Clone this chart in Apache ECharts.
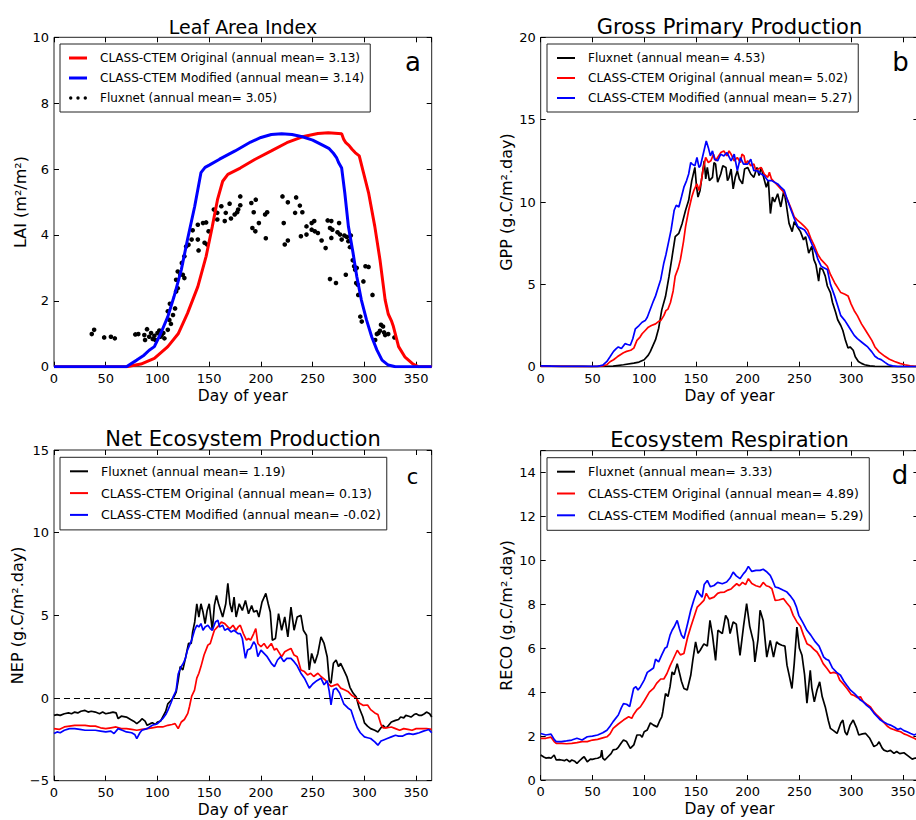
<!DOCTYPE html>
<html><head><meta charset="utf-8">
<script src="https://cdn.jsdelivr.net/npm/echarts@6/dist/echarts.min.js"></script>
<style>html,body{margin:0;padding:0;background:#fff}#c{width:916px;height:820px}</style>
</head><body><div id="c"></div><script>
// ---------------- DATA ----------------
const panelTitles = ['Leaf Area Index', 'Gross Primary Production', 'Net Ecosystem Production', 'Ecosystem Respiration'];
const panelLetters = ['a', 'b', 'c', 'd'];
const yNames = ['LAI (m\u00B2/m\u00B2)', 'GPP (g.C/m\u00B2.day)', 'NEP (g.C/m\u00B2.day)', 'RECO (g.C/m\u00B2.day)'];
const xName = 'Day of year';
const xTicks = [0, 50, 100, 150, 200, 250, 300, 350];
const yRanges = [[0, 10, 2], [0, 20, 5], [-5, 15, 5], [0, 15, 2]];

const laiNames = ['CLASS-CTEM Original (annual mean= 3.13)', 'CLASS-CTEM Modified (annual mean= 3.14)', 'Fluxnet (annual mean= 3.05)'];
const gppNames = ['Fluxnet (annual mean= 4.53)', 'CLASS-CTEM Original (annual mean= 5.02)', 'CLASS-CTEM Modified (annual mean= 5.27)'];
const nepNames = ['Fluxnet (annual mean= 1.19)', 'CLASS-CTEM Original (annual mean= 0.13)', 'CLASS-CTEM Modified (annual mean= -0.02)'];
const recoNames = ['Fluxnet (annual mean= 3.33)', 'CLASS-CTEM Original (annual mean= 4.89)', 'CLASS-CTEM Modified (annual mean= 5.29)'];

const laiOriginal = [[0,0],[60,0],[70,0],[84,0.08],[97,0.25],[110,0.61],[120,1.0],[129,1.62],[139,2.43],[147,3.35],[153,4.26],[158,5.07],[163,5.63],[168,5.84],[180,6.03],[194,6.29],[210,6.55],[225,6.8],[240,6.98],[255,7.08],[265,7.1],[278,7.07],[280,6.9],[282,6.8],[285,6.72],[288,6.6],[291,6.5],[295,6.4],[299,5.9],[304,5.28],[310,4.26],[315,3.25],[320,2.03],[323,1.6],[326,1.4],[328,1.22],[333,0.61],[339,0.3],[347,0.08],[352,0],[365,0]];
const laiModified = [[0,0],[60,0],[70,0],[74,0.08],[80,0.2],[87,0.35],[92,0.5],[97,0.61],[103,1.0],[110,1.52],[116,2.13],[123,2.94],[129,3.86],[136,4.87],[142,5.89],[146,6.05],[150,6.12],[160,6.3],[175,6.55],[190,6.82],[200,6.96],[210,7.05],[220,7.07],[230,7.05],[240,6.98],[250,6.88],[260,6.72],[266,6.62],[270,6.48],[273,6.35],[275,6.2],[278,6.03],[281,5.28],[284.5,4.26],[289,3.45],[292.6,2.74],[297,2.03],[302,1.42],[307,0.91],[312,0.51],[317,0.2],[323,0.05],[330,0],[365,0]];
const laiFluxnet = [[36.5,0.99],[38.8,1.12],[48.5,0.89],[55,0.91],[58.8,0.86],[78.6,0.98],[81.5,0.99],[87.3,0.96],[89.9,1.14],[88,0.81],[92,0.91],[93.8,1.02],[95.4,0.84],[97,0.94],[98,0.81],[100,1.02],[101.8,1.1],[102.8,0.91],[104,0.96],[105.7,1.02],[106.7,0.86],[110,1.12],[111.5,1.42],[113,1.3],[115,1.57],[110,1.68],[112,1.91],[117,1.77],[118,2.28],[119.6,2.38],[118,2.64],[119.6,2.89],[122,2.79],[124.5,2.79],[126,2.69],[123.5,3.15],[126,3.35],[127.7,3.65],[130,3.7],[133,3.86],[134,4.14],[139,3.86],[139.7,3.53],[139,4.31],[144,4.36],[147,4.38],[149.4,4.11],[145.5,3.76],[148,3.71],[154.5,4.77],[157.8,4.67],[157.8,4.47],[161.7,4.87],[165,4.42],[166,4.67],[169.7,4.95],[171,4.5],[174.6,4.62],[177,4.69],[178,4.77],[180,5.17],[180,4.9],[190.7,4.97],[193,4.69],[195,5.07],[191.7,4.21],[194.6,4.11],[198,4.36],[204.7,3.9],[204,4.62],[206,4.69],[220.8,5.17],[222,4.36],[223,3.71],[226,4.99],[226,3.83],[234,5.14],[233,4.67],[237.6,4.89],[240,4.69],[238.6,3.96],[244,4.26],[244,4.01],[249,4.36],[251.5,4.42],[249,4.16],[252,4.11],[255,4.06],[258.6,3.83],[262.5,3.6],[264.5,4.44],[268,4.42],[266.7,4.21],[269,4.16],[268,3.91],[266.7,2.66],[272.5,2.54],[275.5,4.36],[274,4.08],[276.4,4.01],[278,3.86],[280.6,3.98],[283,3.94],[284.5,3.81],[286.8,3.98],[286,3.63],[282,2.79],[288.7,3.23],[290,3.05],[291,2.94],[292.6,3.0],[292,2.54],[293.6,2.49],[294,2.18],[296,1.52],[297.4,1.37],[299,2.59],[301,3.05],[304,3.03],[307.8,2.18],[310.4,0.81],[312,0.99],[313.6,1.02],[316,1.27],[318,1.22],[319,1.04],[315,1.09],[320,0.96],[323,0.99],[329,0.89]];

const gppFluxnet = [[0,0.05],[10,0.03],[20,0.02],[30,0.02],[40,0.02],[50,0.01],[60,0.02],[70,0.03],[80,0.12],[90,0.22],[95,0.28],[100,0.42],[104,0.7],[106,0.93],[111,1.64],[114,2.34],[117,3.45],[120.6,4.26],[124,5.48],[127,6.69],[130,7.9],[133.5,8.1],[136.7,8.7],[140,9.5],[143,10.1],[146,11.3],[149,12.1],[150.5,11.0],[152,10.3],[154,10.7],[156,11.6],[158,12.5],[159.5,11.4],[161,12.1],[163,11.3],[166,11.5],[167.5,12.4],[169,12.3],[171,11.2],[174,11.7],[176,12.2],[179,12.1],[180.5,11.3],[182,11.5],[184,12.0],[186,10.8],[188,11.5],[190,11.9],[192,11.4],[195,11.1],[197,12.0],[200,12.1],[203,11.7],[206,11.5],[209,12.1],[211,11.6],[213,12.1],[215,11.6],[218,10.9],[220,11.3],[222,9.3],[224,10.3],[226,10.0],[229,10.5],[232,9.7],[235,10.7],[237,10.0],[240,8.7],[243,8.2],[245,8.8],[248,8.5],[251,8.2],[254,7.7],[256,7.9],[259,6.9],[262,7.3],[264,6.5],[266,6.2],[268.6,5.2],[270,6.0],[272.5,5.9],[275,5.5],[277,4.9],[280,4.5],[282,3.9],[285,3.3],[287,2.85],[290,2.5],[292,2.2],[294.5,1.6],[297,1.13],[299,1.2],[302,1.0],[304,0.6],[307,0.32],[310,0.2],[313,0.12],[318,0.05],[323,0.02],[340,0],[365,0]];
const gppOriginal = [[0,0.02],[20,0.02],[40,0.01],[55,0.02],[60,0.05],[64,0.12],[67,0.3],[70.4,0.42],[74,0.6],[77,0.73],[80,0.85],[83,0.93],[87,1.0],[90,1.13],[93,1.6],[96,1.8],[98,2.0],[101,2.2],[104,2.4],[107,2.5],[111,2.6],[114,2.75],[116,2.8],[119,3.1],[121,3.4],[123,3.5],[125.4,3.9],[128,4.6],[130,5.5],[133,6.0],[135,6.5],[138,7.6],[140,8.5],[143,9.5],[146,10.3],[148,10.7],[151,11.1],[153,10.7],[155,11.2],[157,12.0],[159.4,12.7],[162,12.4],[164.4,12.5],[167,12.9],[169,12.5],[171,12.7],[174,13.0],[177,13.1],[180,12.8],[182,13.1],[184,12.9],[187,12.5],[190,12.7],[193,12.4],[194.5,12.9],[196.5,12.8],[198,12.3],[200,12.5],[203,12.2],[206,12.3],[208,11.9],[210,12.0],[213,12.1],[216,11.7],[219.4,11.5],[221,11.8],[223,11.4],[226,11.2],[229,11.0],[232,10.8],[235,10.6],[238.7,10.1],[242,9.6],[245,9.1],[248,8.9],[251.7,8.7],[255,8.5],[258,8.3],[261,7.8],[264.7,7.3],[268,6.8],[271,6.5],[274,6.3],[277,6.1],[280,5.6],[284,5.1],[287,4.8],[290,4.5],[294,4.4],[297,4.3],[300,3.8],[303,3.4],[306,3.1],[310,2.6],[313,2.3],[316,2.0],[320,1.6],[323,1.2],[327,0.9],[332.6,0.63],[337,0.45],[342,0.32],[347,0.2],[352,0.12],[357,0.05],[361,0.02],[365,0.01]];
const gppModified = [[0,0.05],[20,0.02],[40,0.02],[55,0.02],[60,0.1],[64,0.32],[67,0.6],[70.4,0.93],[73,1.1],[75,1.2],[78,1.1],[81.5,1.4],[84,1.35],[86.6,1.3],[89,1.7],[91.5,2.3],[95,2.5],[98,2.7],[101,2.8],[103,3.0],[106,3.5],[109,4.0],[111,4.3],[114,4.9],[116,5.3],[119,6.3],[121,6.8],[124,7.7],[126,8.3],[129,9.5],[131,9.8],[133.5,9.7],[136,10.3],[138.4,10.9],[141,11.3],[143,11.7],[145,12.4],[146.4,12.3],[149,12.2],[151,12.7],[153,12.1],[154.4,12.2],[157,12.9],[160,13.7],[162,13.3],[164,12.8],[166,13.1],[168,12.6],[171,12.5],[174,12.9],[177,12.8],[180,13.0],[184,12.5],[187,12.9],[190,11.9],[193,12.7],[196,12.3],[200,12.3],[203,12.6],[206,11.9],[209,11.9],[213,11.7],[216,11.6],[219.4,11.3],[223,11.3],[226,11.2],[229,11.1],[232,10.9],[235.4,10.7],[238,10.2],[242,9.5],[245,9.0],[248.5,8.5],[252,8.4],[255,8.3],[259,7.9],[263,7.3],[266,6.9],[268,6.5],[271,6.1],[274,6.0],[277,5.9],[280,5.0],[284,4.3],[287,3.7],[290,3.1],[294,2.8],[297,2.5],[300,2.2],[303,1.9],[306,1.7],[310,1.5],[313,1.35],[316,1.2],[320,0.9],[323,0.63],[326,0.5],[329,0.43],[333,0.25],[336,0.12],[340,0.05],[345,0],[365,0]];

const nepFluxnet = [[0,-1.05],[3,-1.0],[6,-1.05],[10,-0.95],[14,-0.9],[17,-0.95],[20,-0.85],[23,-0.9],[26,-0.8],[30,-0.75],[33,-0.85],[36,-0.8],[40,-0.85],[44,-0.95],[47,-0.85],[50,-0.95],[54,-0.9],[57,-0.85],[60,-0.9],[62,-1.25],[65,-1.1],[70,-1.15],[74,-1.3],[77,-1.4],[80,-1.55],[83,-1.4],[85,-1.25],[88,-1.4],[90,-1.65],[93,-1.55],[95,-1.5],[98,-1.6],[100,-1.45],[103,-1.4],[105,-1.15],[108,-0.8],[110,-0.35],[113,-0.15],[116,0.08],[118,0.35],[120,1.05],[122,1.9],[124.5,1.7],[127,2.4],[128,2.7],[130,3.3],[132.6,3.3],[134,4.0],[136,4.6],[138,5.7],[140,4.9],[142,5.7],[144,5.2],[146,4.5],[148,5.3],[150,5.7],[153,4.1],[155,5.6],[157,6.2],[159,5.7],[160,5.5],[163,4.9],[166,5.7],[168,6.94],[170,5.7],[172,5.2],[174,6.1],[176,4.9],[179,5.7],[182,5.3],[185,5.9],[188,5.1],[191,5.6],[193,5.2],[196,5.3],[198,4.9],[201,5.8],[204.7,6.33],[207,5.7],[209,5.2],[211,3.5],[214,3.6],[217,5.1],[220,4.1],[223,4.9],[226,3.7],[229,5.5],[232,4.1],[235,4.9],[238.6,5.0],[241,4.1],[244,3.8],[246.7,1.7],[249,2.7],[252,2.1],[255,2.7],[258,3.7],[261,3.3],[264,2.5],[266,1.05],[267.7,0.9],[270,2.1],[272.6,2.3],[275,1.9],[277,2.1],[280,1.7],[283,1.3],[286,0.65],[289,0.3],[292,0.08],[295,-0.6],[298.4,-1.13],[300,-1.5],[303,-1.7],[306,-1.85],[310,-1.95],[313,-2.05],[316,-1.8],[318,-1.65],[320,-1.8],[322,-1.75],[326,-1.45],[330,-1.35],[333,-1.3],[335,-1.15],[338,-1.2],[340,-1.05],[343,-1.1],[345,-1.15],[348,-1.0],[350,-0.95],[353,-1.05],[355,-1.05],[358,-0.95],[360,-0.85],[363,-0.95],[365,-1.15]];
const nepOriginal = [[0,-1.85],[5,-1.9],[10,-1.75],[15,-1.7],[20,-1.65],[25,-1.65],[30,-1.65],[35,-1.7],[40,-1.7],[45,-1.8],[50,-1.85],[55,-1.8],[60,-1.75],[65,-1.85],[70,-1.85],[75,-1.9],[80,-1.95],[85,-1.9],[90,-1.85],[95,-1.8],[100,-1.75],[105,-1.75],[110,-1.65],[114,-1.6],[117,-1.55],[120,-1.85],[123,-1.45],[126,-1.3],[129.3,-0.93],[131,-0.5],[133,0.1],[135.8,0.48],[138,1.2],[140,1.5],[142,1.9],[145,2.6],[148.7,3.2],[151,3.3],[153,3.7],[155,4.1],[158,4.3],[161.7,4.6],[165,4.5],[168,4.3],[170,4.2],[173,4.4],[176,4.1],[178,4.3],[180,4.4],[183,3.9],[186,3.5],[188,3.6],[190,3.5],[193,3.9],[195,4.2],[197,3.3],[200,3.1],[203,3.3],[206,3.0],[210,3.3],[213,2.9],[215,3.0],[218,2.7],[220,2.5],[223,2.8],[226,2.9],[229,3.0],[232,2.6],[235,2.5],[238.6,1.7],[242,1.6],[245,1.4],[248,1.5],[251,1.3],[255,1.5],[258,1.3],[262,1.1],[265,0.85],[267.7,0.7],[270,0.75],[274,0.85],[277,0.6],[280.6,0.5],[284,0.4],[288,0.15],[292,0],[295,-0.3],[299,-0.45],[303,-0.42],[306,-0.7],[310,-0.9],[313,-1.0],[316,-1.6],[318,-1.8],[322,-1.8],[326,-1.75],[330,-1.85],[334,-1.95],[338,-1.85],[342,-1.9],[346,-1.95],[350,-1.85],[355,-1.85],[360,-1.85],[365,-1.9]];
const nepModified = [[0,-2.15],[3,-2.05],[6,-2.1],[10,-1.95],[15,-1.85],[20,-1.85],[25,-1.9],[30,-1.95],[35,-1.95],[40,-1.95],[45,-2.0],[50,-2.05],[55,-2.0],[58,-2.15],[62,-1.85],[66,-1.95],[70,-2.05],[75,-2.1],[78,-2.2],[80,-2.45],[83,-2.1],[85,-1.95],[90,-1.85],[95,-1.65],[100,-1.55],[105,-1.25],[108,-1.0],[110,-0.75],[113,-0.3],[115,0.05],[118,0.45],[120,1.45],[122.9,1.9],[125,2.1],[127,2.4],[129,2.9],[131,3.2],[133,3.5],[135.8,4.1],[138,4.4],[140,4.3],[142,4.5],[144,4.1],[146,4.3],[148.7,4.4],[151,4.2],[153,4.1],[156,4.6],[158.4,4.7],[160,4.3],[163,4.4],[165,4.1],[168,4.2],[171,4.0],[174,4.1],[177.8,3.9],[180,3.9],[182,3.6],[185,2.4],[187,2.9],[190,3.0],[193,3.4],[195,3.2],[197,2.5],[200,2.9],[203,2.7],[206,2.5],[210,2.1],[213,1.9],[216,2.3],[219,2.5],[222,2.2],[225,2.4],[229,2.4],[232,2.2],[235,1.95],[238.6,1.5],[242,1.2],[246.7,0.6],[250,0.85],[254,1.05],[258,1.2],[261,0.8],[264,1.05],[266,0.4],[267.7,-0.42],[270,0.5],[272.6,0.6],[276,0.3],[280,-0.35],[284,-0.6],[287,-0.73],[290,-1.3],[293,-1.8],[296,-2.1],[300,-2.35],[303,-2.4],[306,-2.45],[310,-2.65],[313,-2.85],[316,-2.6],[318,-2.55],[322,-2.45],[326,-2.35],[330,-2.25],[333,-2.3],[337,-2.3],[340,-2.2],[343,-2.15],[347,-2.2],[350,-2.15],[353,-2.1],[357,-2.0],[360,-1.95],[362,-1.9],[365,-2.1]];
const nepZeroLine = 0;

const recoFluxnet = [[0,1.14],[3,1.05],[5,1.0],[8,1.02],[10,0.99],[13,1.14],[15,0.91],[18,0.93],[20,0.91],[23,0.88],[25,0.94],[28,0.83],[30,0.91],[33,0.85],[35,0.76],[38,0.9],[40,0.99],[42,1.06],[45,0.83],[48,0.95],[50,0.94],[53,0.98],[55,0.99],[58,1.06],[59,1.36],[60,1.0],[62,0.91],[65,1.06],[68,1.2],[70,1.37],[73,1.4],[75,1.49],[78,1.7],[80,1.82],[83,1.75],[86.6,1.44],[90,1.6],[93,2.05],[96.3,2.05],[98,1.95],[100,2.2],[103,2.28],[106,2.6],[109,2.5],[112.5,2.42],[115,2.7],[117,2.88],[118,3.11],[120.6,3.94],[123,3.8],[125,4.25],[127,4.92],[129,4.8],[131.9,5.3],[134,4.9],[136,4.5],[138.4,4.17],[141.6,4.1],[145,4.77],[147,5.46],[149.7,6.29],[152,5.77],[154,5.9],[157.7,6.2],[161,6.1],[163.6,7.27],[166,6.6],[169,5.45],[171.3,6.82],[175.5,6.67],[178.7,7.5],[181,7.3],[183,6.67],[186,7.2],[189,7.1],[192.6,5.68],[196,7.0],[199,8.03],[202,7.0],[205.6,6.29],[207,5.38],[210,6.4],[212,7.73],[215,7.27],[218.5,5.6],[221.8,6.36],[225,5.6],[228,6.29],[230,6.2],[233,6.14],[236,6.1],[238,5.23],[240,4.8],[242.8,4.17],[245,5.3],[247.6,6.97],[250,6.0],[252.5,5.68],[255,4.8],[257.3,3.5],[260.5,5.0],[262,4.2],[264.4,3.56],[267,4.1],[269.6,4.47],[272,3.8],[275,3.33],[278,2.7],[280,2.35],[283,2.25],[286.4,2.12],[290,2.6],[292,2.73],[294,2.2],[296,2.05],[299,2.5],[302,2.73],[305,2.4],[307.4,2.05],[311,2.1],[314,2.12],[318,1.9],[322,1.52],[325,1.6],[327,1.74],[330,1.45],[331.7,1.36],[335,1.3],[338,1.35],[341.4,1.21],[344,1.3],[347,1.2],[351,1.24],[355,1.1],[359,0.95],[362,1.0],[365,0.98]];
const recoOriginal = [[0,1.9],[5,1.9],[10,1.95],[13,1.75],[15,1.67],[20,1.67],[25,1.65],[30,1.67],[35,1.7],[40,1.75],[45,1.75],[50,1.82],[55,1.85],[60,1.92],[64,1.97],[67,2.1],[70,2.35],[75,2.55],[80,2.73],[85,2.88],[88,2.81],[90,3.0],[93,3.2],[96.3,3.33],[100,3.6],[105,4.0],[109,4.17],[112,4.4],[116,4.6],[119,4.6],[122,4.85],[125,5.2],[128,5.5],[132,5.91],[135,5.7],[138.4,5.76],[142,6.5],[145,6.97],[148,7.4],[151.3,7.88],[154,8.0],[157.7,8.18],[160,8.5],[163,8.25],[167.5,8.33],[171,8.5],[174,8.55],[177.6,8.56],[181,8.65],[184,8.7],[186,8.8],[189.4,8.94],[192,8.85],[195,9.0],[198,8.9],[200.7,9.17],[204,8.95],[208,8.85],[212,8.79],[215,9.0],[218,8.85],[221,8.8],[223.4,8.71],[226.6,8.18],[230,8.2],[234.7,8.26],[238,8.05],[241,7.88],[244,7.5],[247.6,7.2],[251,7.0],[254,6.6],[257.3,6.21],[261,6.1],[264,5.95],[267,5.83],[270,5.6],[273,5.3],[276.7,5.08],[280,4.86],[283,4.9],[286.4,4.85],[289,4.55],[292,4.4],[296,4.17],[300,3.9],[303,3.85],[306,3.75],[309,3.79],[312,3.55],[315,3.45],[318.7,3.33],[322,3.1],[325,2.95],[328.4,2.8],[332,2.6],[335,2.45],[338,2.35],[341,2.3],[344,2.25],[347.8,2.2],[351,2.1],[354,2.05],[357.5,1.97],[361,1.9],[364,1.82],[365,1.85]];
const recoModified = [[0,2.12],[5,2.05],[10,2.09],[13,1.85],[15,1.75],[20,1.75],[25,1.78],[30,1.82],[35,1.9],[40,1.82],[45,1.97],[50,2.0],[55,2.05],[60,2.15],[64,2.27],[67,2.45],[70,2.66],[75,2.96],[78,3.3],[80,3.48],[83,3.45],[86,3.35],[89.8,4.17],[92,4.25],[94,4.1],[96.3,4.24],[100,4.55],[103,4.9],[106,5.0],[109,5.1],[111,5.5],[114,5.38],[117,5.7],[120,6.0],[122,6.06],[125,6.6],[127,6.82],[129,6.98],[131.9,7.27],[134,6.9],[136,6.6],[138.4,6.44],[142,7.13],[145,7.73],[148,8.2],[151.3,8.64],[153,8.5],[156,8.33],[158,8.9],[161,9.09],[164,8.8],[167.5,8.86],[171,9.0],[175.5,8.94],[179.7,9.02],[183,9.2],[186,9.47],[189,9.3],[192.6,9.17],[196,9.4],[198,9.5],[200.7,9.73],[204,9.5],[208,9.55],[212,9.55],[215,9.6],[218,9.5],[221.8,9.32],[224,9.1],[226.6,8.79],[230,8.75],[234,8.65],[238,8.56],[241,8.4],[244.5,8.18],[247,7.9],[249.4,7.5],[253,7.2],[257.3,6.82],[261,6.6],[265.4,6.29],[269,6.1],[273.5,5.6],[276,5.5],[278.4,5.45],[282,5.1],[286,4.9],[289.7,4.77],[293,4.5],[296,4.3],[299.4,4.09],[303,3.95],[306,3.8],[309,3.64],[312,3.55],[315,3.4],[318.7,3.26],[322,3.05],[325,2.9],[328.4,2.73],[331,2.65],[335,2.55],[338,2.5],[342,2.4],[345,2.3],[347.8,2.35],[351,2.25],[354,2.2],[357.5,2.12],[361,2.05],[364,2.12],[365,2.15]];

// ---------------- LAYOUT ----------------
const FONT = 'DejaVu Sans';
const RED = '#ff0000', BLUE = '#0000ff', BLACK = '#000000';
const grids = [
  {left: 54, top: 37.3, width: 377.7, height: 329.4},
  {left: 540.7, top: 37.3, width: 377.7, height: 329.4},
  {left: 54, top: 450, width: 377.7, height: 330.7},
  {left: 540.7, top: 450.7, width: 377.7, height: 329.3}
];
const minus = v => (v < 0 ? '\u2212' + Math.abs(v) : String(v));
const tickStyle = {inside: true, length: 5, lineStyle: {color: BLACK, width: 1}};

const xAxes = [], yAxes = [];
grids.forEach((g, i) => {
  xAxes.push({
    type: 'value', gridIndex: i, min: 0, max: 365, interval: 50, position: 'bottom',
    name: xName, nameLocation: 'middle', nameGap: 21,
    nameTextStyle: {fontFamily: FONT, fontSize: 15.5, color: BLACK},
    axisLine: {show: false, onZero: false},
    axisTick: tickStyle,
    axisLabel: {fontFamily: FONT, fontSize: 13, color: BLACK, margin: 5, showMaxLabel: false,
      formatter: v => (xTicks.indexOf(v) >= 0 ? String(v) : '')},
    splitLine: {show: false}
  });
  const yr = yRanges[i];
  yAxes.push({
    type: 'value', gridIndex: i, min: yr[0], max: yr[1], interval: yr[2], position: 'left',
    name: yNames[i], nameLocation: 'middle', nameGap: i === 2 ? 29 : 26, nameRotate: 90,
    nameTextStyle: {fontFamily: FONT, fontSize: 16, color: BLACK},
    axisLine: {show: false, onZero: false},
    axisTick: tickStyle,
    axisLabel: {fontFamily: FONT, fontSize: 13, color: BLACK, margin: 5,
      formatter: v => ((v - yr[0]) % yr[2] === 0 ? minus(v) : '')},
    splitLine: {show: false}
  });
});
grids.forEach((g, i) => {
  xAxes.push({
    type: 'value', gridIndex: i, min: 0, max: 365, interval: 50, position: 'top',
    axisLine: {show: false, onZero: false}, axisLabel: {show: false}, splitLine: {show: false},
    axisTick: tickStyle
  });
  const yr = yRanges[i];
  yAxes.push({
    type: 'value', gridIndex: i, min: yr[0], max: yr[1], interval: yr[2], position: 'right',
    axisLine: {show: false, onZero: false}, axisLabel: {show: false}, splitLine: {show: false},
    axisTick: tickStyle
  });
});

function lineSeries(name, data, color, idx, width) {
  return {type: 'line', name: name, data: data, xAxisIndex: idx, yAxisIndex: idx,
    symbol: 'none', showSymbol: false, smooth: false, animation: false,
    lineStyle: {color: color, width: width}, itemStyle: {color: color}};
}

const series = [
  lineSeries(laiNames[0], laiOriginal, RED, 0, 3),
  lineSeries(laiNames[1], laiModified, BLUE, 0, 3),
  {type: 'scatter', name: laiNames[2], data: laiFluxnet, xAxisIndex: 0, yAxisIndex: 0,
    symbol: 'circle', symbolSize: 4.6, itemStyle: {color: BLACK, opacity: 1}, animation: false},
  lineSeries(gppNames[0], gppFluxnet, BLACK, 1, 1.7),
  lineSeries(gppNames[1], gppOriginal, RED, 1, 1.7),
  lineSeries(gppNames[2], gppModified, BLUE, 1, 1.7),
  Object.assign(lineSeries(nepNames[0], nepFluxnet, BLACK, 2, 1.7), {
    markLine: {silent: true, symbol: 'none', label: {show: false}, animation: false,
      lineStyle: {color: BLACK, type: [6, 4], width: 1}, data: [{yAxis: nepZeroLine}]}
  }),
  lineSeries(nepNames[1], nepOriginal, RED, 2, 1.7),
  lineSeries(nepNames[2], nepModified, BLUE, 2, 1.7),
  lineSeries(recoNames[0], recoFluxnet, BLACK, 3, 1.7),
  lineSeries(recoNames[1], recoOriginal, RED, 3, 1.7),
  lineSeries(recoNames[2], recoModified, BLUE, 3, 1.7)
];

const dotsIcon = 'path://M0,2a2,2 0 1,0 4,0a2,2 0 1,0 -4,0M8.5,2a2,2 0 1,0 4,0a2,2 0 1,0 -4,0M17,2a2,2 0 1,0 4,0a2,2 0 1,0 -4,0';
const thickIcon = 'path://M0,0H18V3H0Z';
const thinIcon = 'path://M0,0H18V2H0Z';
function legend(names, left, top, fs, gap, pad, icons) {
  return {
    show: true, orient: 'vertical', left: left, top: top, selectedMode: false,
    data: names.map((n, k) => ({name: n, icon: icons[k]})),
    itemWidth: 18, itemHeight: 12, itemGap: gap, padding: pad,
    itemStyle: {borderWidth: 0},
    backgroundColor: '#ffffff', borderColor: '#222222', borderWidth: 1, borderRadius: 0,
    textStyle: {fontFamily: FONT, fontSize: fs, color: BLACK, padding: [0, 0, 0, 8]}
  };
}
const legends = [
  legend(laiNames, 60, 44, 12, 8, [8, 6, 8, 9], [thickIcon, thickIcon, dotsIcon]),
  legend(gppNames, 547, 44, 12, 8, [8, 6, 8, 10], [thinIcon, thinIcon, thinIcon]),
  legend(nepNames, 60, 457.3, 12.5, 8.8, [7.5, 6, 8.5, 10], [thinIcon, thinIcon, thinIcon]),
  legend(recoNames, 547, 457.7, 12.5, 8.8, [7.5, 6, 8.5, 10], [thinIcon, thinIcon, thinIcon])
];

const titlePos = [[243, 27, 19], [729.5, 26.5, 21], [243, 438.8, 21], [729.5, 439.5, 21]];
const letterPos = [[413, 62, 26], [900.5, 62, 26], [412.5, 477, 21], [900, 475, 26]];
const graphics = [];
titlePos.forEach((p, i) => graphics.push({type: 'text', x: p[0], y: p[1], silent: true,
  style: {text: panelTitles[i], fontFamily: FONT, fontSize: p[2], fill: BLACK, textAlign: 'center', textVerticalAlign: 'middle'}}));
letterPos.forEach((p, i) => graphics.push({type: 'text', x: p[0], y: p[1], silent: true,
  style: {text: panelLetters[i], fontFamily: FONT, fontSize: p[2], fill: BLACK, textAlign: 'center', textVerticalAlign: 'middle'}}));

const chart = echarts.init(document.getElementById('c'), null, {renderer: 'svg', width: 916, height: 820});
chart.setOption({
  animation: false,
  backgroundColor: '#ffffff',
  grid: grids.map(g => Object.assign({show: true, borderColor: '#222222', borderWidth: 1,
    backgroundColor: 'transparent', containLabel: false, outerBoundsMode: 'none'}, g)),
  xAxis: xAxes,
  yAxis: yAxes,
  legend: legends,
  series: series,
  graphic: graphics
});
</script></body></html>
